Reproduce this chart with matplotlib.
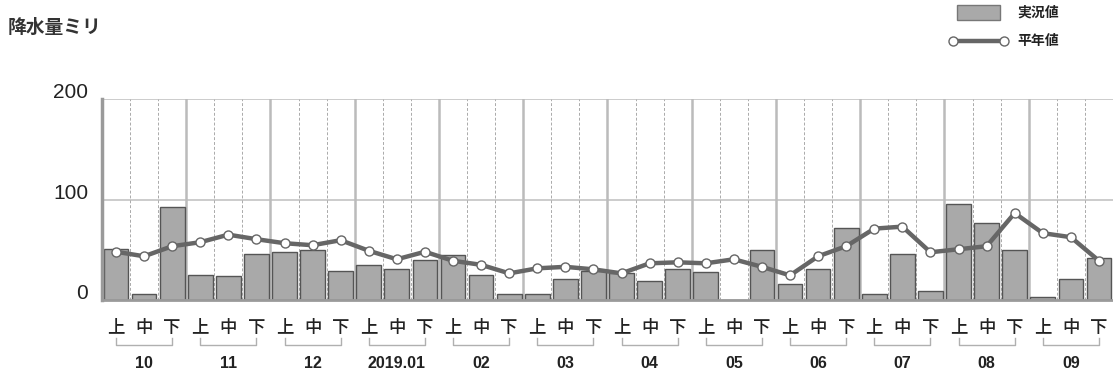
import matplotlib.pyplot as plt
import numpy as np
from matplotlib.patches import Rectangle
from matplotlib.lines import Line2D
from matplotlib.transforms import ScaledTranslation

plt.rcParams['font.family'] = ['Liberation Sans', 'Noto Sans CJK JP']

## === data ===
months = ['10', '11', '12', '2019.01', '02', '03', '04', '05', '06', '07', '08', '09']
dekads = ['上', '中', '下']
actual = [51, 6.5, 93.5, 25.5, 24, 46, 48.5, 50, 29.5, 35.5, 31, 40,
          45.5, 25, 6, 6, 21, 29, 27, 19.5, 31, 28.5, 0, 50,
          16.5, 31, 72, 6, 46, 9.5, 96, 77, 50, 3.5, 21, 42.5]
normal = [48.5, 44, 54, 58, 65.5, 61, 57, 55, 60, 49.5, 41, 48.5,
          39.5, 35.5, 27, 32, 33.5, 31, 27, 37, 38, 37, 41, 33.5,
          25, 44, 54, 71.5, 73.5, 48, 51, 54, 87, 67, 63, 39.5]

bar_fc = '#a9a9a9'; bar_ec = '#555555'
line_c = '#666666'; grid_c = '#c4c4c4'; txt_c = '#222222'
jp = ['Noto Sans CJK JP', 'DejaVu Sans']

n = len(actual)
x = np.arange(n)

fig = plt.figure(figsize=(11.13, 3.76), dpi=100)
ax = fig.add_axes([0.0916, 0.2008, 0.9084, 0.5346])

## grid
for yv in [100, 200]:
    ax.axhline(yv, color=grid_c, lw=1.2, zorder=0)
for i in range(1, n):
    if i % 3 == 0:
        ax.axvline(i - 0.5, color='#bbbbbb', lw=1.8, zorder=0)
    else:
        ax.axvline(i - 0.5, color='#aaaaaa', lw=0.7, ls=(0, (3, 2)), zorder=0)

## bars + normal line
ax.bar(x, actual, width=0.88, color=bar_fc, edgecolor=bar_ec, linewidth=1, zorder=2)
ax.plot(x, normal, color=line_c, lw=3.2, marker='o', ms=6.5, mfc='white',
        mec=line_c, mew=1, zorder=3)

ax.set_xlim(-0.5, n - 0.5)
ax.set_ylim(0, 200)
for s in ['top', 'right']:
    ax.spines[s].set_visible(False)
ax.spines['left'].set_color('#9a9a9a'); ax.spines['left'].set_linewidth(2.5)
ax.spines['bottom'].set_color('#9a9a9a'); ax.spines['bottom'].set_linewidth(2)

ax.set_yticks([0, 100, 200])
ax.tick_params(axis='y', length=0, pad=10, labelsize=15, labelcolor=txt_c)
up = ScaledTranslation(0, 8.5 / 100, fig.dpi_scale_trans)
for lb in ax.get_yticklabels():
    lb.set_transform(lb.get_transform() + up)

ax.set_xticks(x)
ax.set_xticklabels(dekads * len(months), family=jp, weight='medium')
ax.tick_params(axis='x', length=0, pad=13, labelsize=12.5, labelcolor=txt_c)

## month brackets
tr = ax.get_xaxis_transform()
for m, lab in enumerate(months):
    a, b = 3 * m, 3 * m + 2
    ax.plot([a, a, b, b], [-0.187, -0.221, -0.221, -0.187], color='#b0b0b0',
            lw=1, transform=tr, clip_on=False)
    ax.text(3 * m + 1, -0.311, lab, transform=tr, ha='center', va='center',
            fontsize=11.5, weight='bold', color=txt_c)

## y label
fig.text(8 / 1113, 1 - 27 / 376, '降水量ミリ', family=jp, fontsize=13.5, weight='bold',
         color='#333333', va='center', ha='left')

## legend
W, H = 1113, 376
fig.add_artist(Rectangle((957 / W, 1 - 20 / H), 43 / W, 15 / H, transform=fig.transFigure,
                         facecolor=bar_fc, edgecolor='#777777', lw=1))
fig.text(1017 / W, 1 - 12.5 / H, '実況値', family=jp, fontsize=10, weight='bold',
         color=txt_c, va='center')
fig.add_artist(Line2D([953 / W, 1004 / W], [1 - 41 / H, 1 - 41 / H], transform=fig.transFigure,
                      color=line_c, lw=3.2, marker='o', ms=6.5, mfc='white', mec=line_c, mew=1))
fig.text(1017 / W, 1 - 41 / H, '平年値', family=jp, fontsize=10, weight='bold',
         color=txt_c, va='center')

fig.savefig('out.png', dpi=100)
